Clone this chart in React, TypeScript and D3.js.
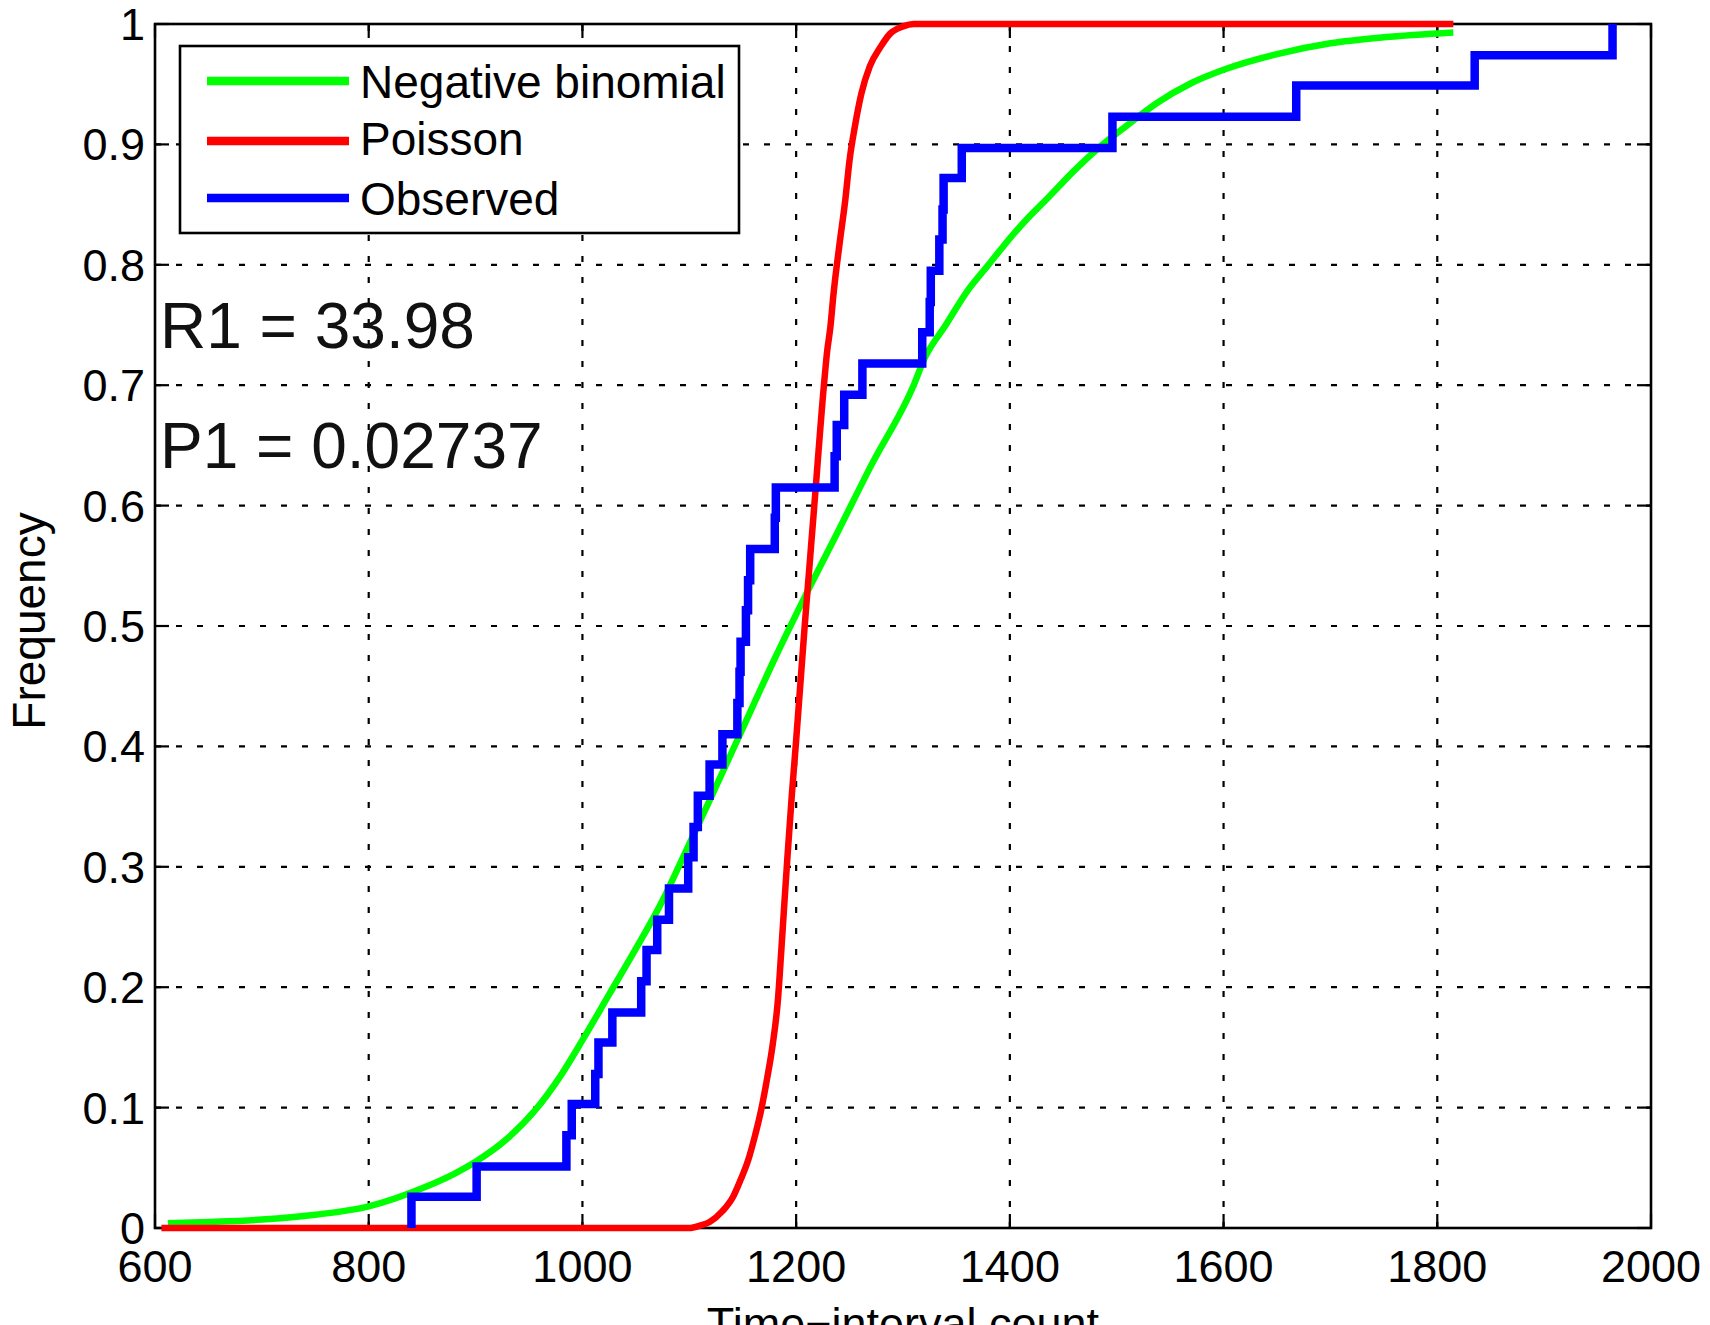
import React from "react";
import * as d3 from "d3";

// ---------- data ----------
const xTicks = [600, 800, 1000, 1200, 1400, 1600, 1800, 2000];
const xTickLabels = ["600", "800", "1000", "1200", "1400", "1600", "1800", "2000"];
const yTicks = [0, 0.1, 0.2, 0.3, 0.4, 0.5, 0.6, 0.7, 0.8, 0.9, 1];
const yTickLabels = ["0", "0.1", "0.2", "0.3", "0.4", "0.5", "0.6", "0.7", "0.8", "0.9", "1"];

// Negative binomial CDF (green)
const nbX = [612, 650, 700, 750, 800, 850, 880, 900, 930, 955, 980, 1000, 1025, 1050, 1075, 1090, 1120, 1150, 1180, 1208, 1240, 1270, 1310, 1320, 1340, 1360, 1380, 1400, 1415, 1435, 1460, 1483, 1510, 1537, 1570, 1600, 1650, 1700, 1750, 1815];
const nbY = [0.004, 0.005, 0.007, 0.011, 0.018, 0.033, 0.045, 0.055, 0.0745, 0.097, 0.127, 0.156, 0.194, 0.232, 0.272, 0.3, 0.357, 0.415, 0.473, 0.524, 0.58, 0.633, 0.7, 0.722, 0.75, 0.778, 0.8, 0.822, 0.837, 0.855, 0.878, 0.897, 0.916, 0.934, 0.951, 0.962, 0.975, 0.984, 0.989, 0.993];

// Poisson CDF (red)
const poX = [606, 1100, 1110, 1119, 1131, 1141, 1148, 1155, 1161, 1167, 1173, 1178, 1183, 1186, 1189, 1192, 1196, 1200, 1208, 1217, 1226, 1229, 1232, 1235, 1241, 1246, 1250, 1255, 1261, 1269, 1279, 1288, 1300, 1310, 1815];
const poY = [0, 0, 0.002, 0.005, 0.014, 0.026, 0.04, 0.056, 0.075, 0.097, 0.125, 0.152, 0.19, 0.229, 0.27, 0.31, 0.36, 0.405, 0.5, 0.6, 0.7, 0.728, 0.748, 0.776, 0.82, 0.854, 0.887, 0.915, 0.942, 0.965, 0.981, 0.992, 0.998, 1, 1];

// Observed empirical CDF (blue): step positions and levels after each step
const obsStepX = [840, 901, 985, 990, 1012, 1015, 1028, 1055, 1060, 1070, 1081, 1099, 1104, 1108, 1119, 1131, 1145, 1147, 1148, 1153, 1155, 1157, 1180, 1181, 1236, 1238, 1245, 1262, 1318, 1325, 1326, 1334, 1337, 1338, 1355, 1496, 1668, 1835, 1964];
const obsLevel = [0.026, 0.051, 0.077, 0.103, 0.128, 0.154, 0.179, 0.205, 0.231, 0.256, 0.282, 0.308, 0.333, 0.359, 0.385, 0.41, 0.436, 0.462, 0.487, 0.513, 0.538, 0.564, 0.59, 0.615, 0.641, 0.667, 0.692, 0.718, 0.744, 0.769, 0.795, 0.821, 0.846, 0.872, 0.897, 0.923, 0.949, 0.974, 1.0];

const legendLabels = ["Negative binomial", "Poisson", "Observed"];
const legendColors = ["#00ff00", "#ff0000", "#0000ff"];
const annotations = ["R1 = 33.98", "P1 = 0.02737"];

// ---------- layout ----------
const W = 1710;
const H = 1325;
const L = 155, R = 1651, T = 24, B = 1228;
const FONT = "'Liberation Sans', Arial, Helvetica, sans-serif";

export default function App() {
  const x = d3.scaleLinear().domain([600, 2000]).range([L, R]);
  const y = d3.scaleLinear().domain([0, 1]).range([B, T]);

  const smooth = d3
    .line<[number, number]>()
    .x((d) => x(d[0]))
    .y((d) => y(d[1]))
    .curve(d3.curveMonotoneX);

  const step = d3
    .line<[number, number]>()
    .x((d) => x(d[0]))
    .y((d) => y(d[1]))
    .curve(d3.curveStepAfter);

  const nbPts: [number, number][] = nbX.map((v, i) => [v, nbY[i]]);
  const poPts: [number, number][] = poX.map((v, i) => [v, poY[i]]);
  const obsPts: [number, number][] = [[obsStepX[0], 0], ...obsStepX.map((v, i) => [v, obsLevel[i]] as [number, number])];

  const tickLen = 14;
  const gridDash = "6 15";

  return (
    <svg
      width={W}
      height={H}
      viewBox={`0 0 ${W} ${H}`}
      style={{ position: "absolute", left: 0, top: 0, background: "#fff" }}
      fontFamily={FONT}
    >
      <rect x={0} y={0} width={W} height={H} fill="#fff" />

      {/* grid */}
      <g stroke="#000" strokeWidth={2.2} strokeDasharray={gridDash}>
        {xTicks.slice(1, -1).map((t) => (
          <line key={"gx" + t} x1={x(t)} x2={x(t)} y1={B} y2={T} />
        ))}
        {yTicks.slice(1, -1).map((t) => (
          <line key={"gy" + t} x1={L} x2={R} y1={y(t)} y2={y(t)} />
        ))}
      </g>

      {/* ticks (inward on all sides) */}
      <g stroke="#000" strokeWidth={2.2}>
        {xTicks.map((t) => (
          <g key={"tx" + t}>
            <line x1={x(t)} x2={x(t)} y1={B} y2={B - tickLen} />
            <line x1={x(t)} x2={x(t)} y1={T} y2={T + tickLen} />
          </g>
        ))}
        {yTicks.map((t) => (
          <g key={"ty" + t}>
            <line x1={L} x2={L + tickLen} y1={y(t)} y2={y(t)} />
            <line x1={R} x2={R - tickLen} y1={y(t)} y2={y(t)} />
          </g>
        ))}
      </g>

      {/* axes box */}
      <rect x={L} y={T} width={R - L} height={B - T} fill="none" stroke="#000" strokeWidth={2.6} />

      {/* tick labels */}
      <g fontSize={45} fill="#000">
        {xTicks.map((t, i) => (
          <text key={"lx" + t} x={x(t)} y={1282} textAnchor="middle">
            {xTickLabels[i]}
          </text>
        ))}
        {yTicks.map((t, i) => (
          <text key={"ly" + t} x={145} y={y(t) + 16} textAnchor="end">
            {yTickLabels[i]}
          </text>
        ))}
      </g>

      {/* axis labels */}
      <text x={(L + R) / 2} y={1339} fontSize={45} textAnchor="middle" fill="#000">
        Time−interval count
      </text>
      <text
        transform={`translate(45, 621) rotate(-90)`}
        fontSize={46}
        textAnchor="middle"
        fill="#000"
      >
        Frequency
      </text>

      {/* data */}
      <path d={smooth(nbPts) || ""} fill="none" stroke={legendColors[0]} strokeWidth={6.5} strokeLinecap="butt" />
      <path d={smooth(poPts) || ""} fill="none" stroke={legendColors[1]} strokeWidth={6.5} strokeLinecap="butt" />
      <path d={step(obsPts) || ""} fill="none" stroke={legendColors[2]} strokeWidth={8.5} strokeLinejoin="miter" strokeLinecap="butt" />

      {/* annotations */}
      <text x={160} y={348} fontSize={64} fill="#111">{annotations[0]}</text>
      <text x={160} y={468} fontSize={64} fill="#111">{annotations[1]}</text>

      {/* legend */}
      <rect x={180} y={46} width={559} height={187} fill="#fff" stroke="#000" strokeWidth={2.6} />
      {legendLabels.map((lab, i) => {
        const ly = [81, 141, 198][i];
        const by = [98, 155, 215][i];
        return (
          <g key={lab}>
            <line x1={207} x2={349} y1={ly} y2={ly} stroke={legendColors[i]} strokeWidth={8.5} />
            <text x={360} y={by} fontSize={46} fill="#000">
              {lab}
            </text>
          </g>
        );
      })}
    </svg>
  );
}
